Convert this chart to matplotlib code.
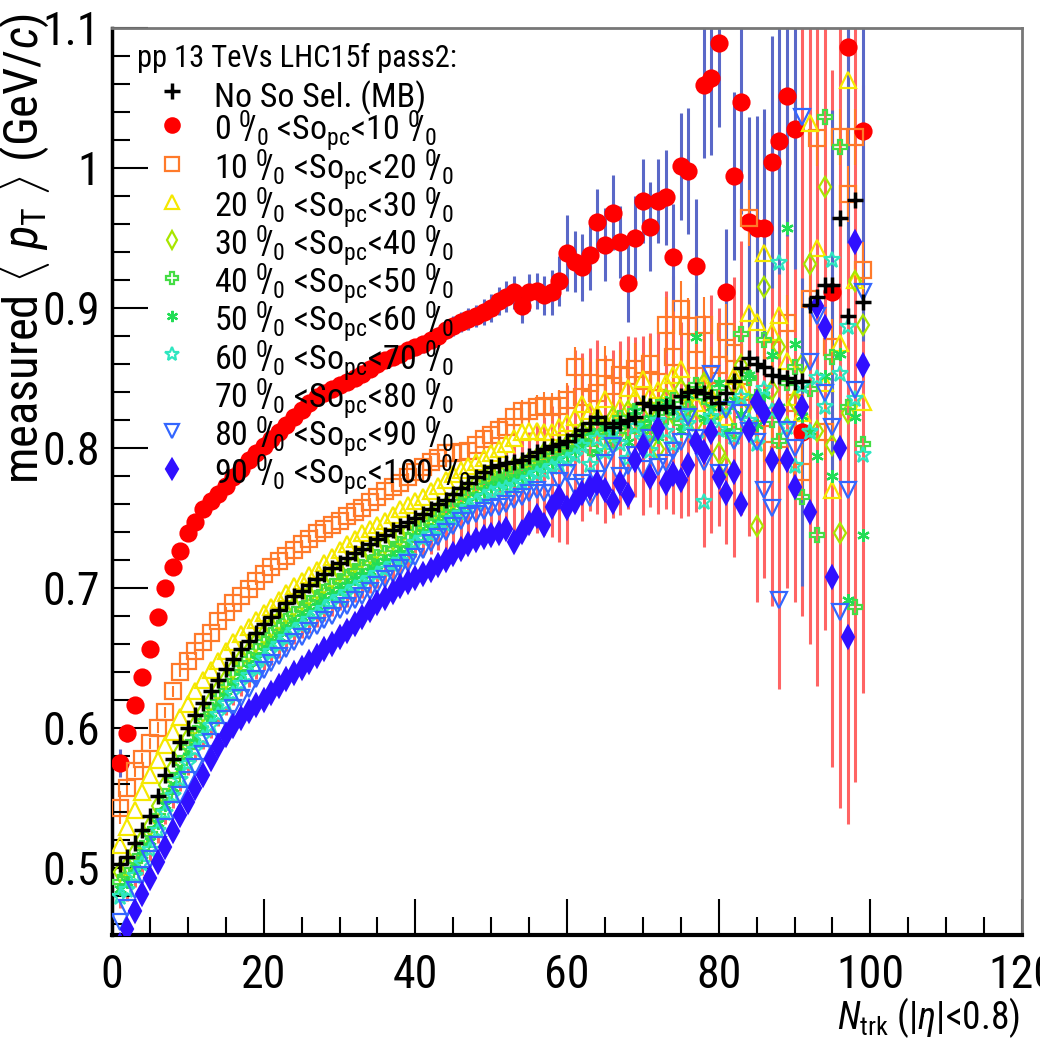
import numpy as np
import matplotlib
matplotlib.use("Agg")
import matplotlib.pyplot as plt
from matplotlib.lines import Line2D
from matplotlib.ticker import MultipleLocator, FormatStrFormatter
from matplotlib import font_manager

nan = np.nan

# N_trk bins 1..99
n_trk = np.arange(1, 100)

# <pT> for minimum bias (no spherocity selection)
mb = [.503, .508, .518, .527, .537, .551, .566, .578, .590, .600,
      .609, .618, .626, .634, .642, .649, .656, .662, .668, .674,
      .679, .684, .689, .694, .698, .702, .706, .710, .714, .718,
      .721, .725, .728, .731, .735, .738, .741, .744, .747, .750,
      .753, .756, .760, .763, .767, .771, .775, .779, .783, .786,
      .788, .789, .790, .791, .794, .797, .799, .801, .803, .805,
      .809, .813, .818, .822, .818, .815, .818, .820, .822, .832,
      .830, .828, .830, .829, .837, .840, .841, .839, .836, .832,
      .839, .848, .857, .864, .860, .858, .852, .851, .850, .847,
      .848, .902, .908, .916, .916, .964, .894, .977, .904]

so_0_10 = [.575, .596, .616, .636, .656, .679, .700, .715, .726, .739,
           .747, .756, .762, .767, .773, .779, .785, .791, .796, .801,
           .806, .811, .816, .822, .827, .832, .836, .839, .842, .845,
           .847, .850, .853, .856, .860, .863, .865, .867, .870, .872,
           .874, .877, .880, .884, .887, .890, .892, .894, .897, .900,
           .905, .908, .911, .901, .911, .912, .909, .911, .919, .939,
           .933, .929, .938, .961, .945, .968, .947, .918, .950, .976,
           .958, .976, .979, .936, 1.001, .998, .930, 1.059, 1.064, 1.089,
           .911, .994, 1.047, .961, .957, .957, 1.004, 1.019, 1.051, 1.028,
           .811, nan, nan, nan, .911, nan, 1.086, nan, 1.026]
err_0_10 = [.010, .006, .004, .003, .003, .003, .003, .003, .003, .003,
            .003, .003, .003, .003, .003, .003, .003, .003, .003, .003,
            .003, .003, .003, .003, .003, .003, .003, .003, .003, .003,
            .004, .004, .004, .004, .004, .005, .005, .005, .005, .005,
            .006, .006, .006, .006, .007, .007, .008, .008, .009, .010,
            .010, .011, .012, .012, .013, .013, .014, .016, .018, .027,
            .022, .024, .025, .024, .026, .027, .026, .028, .030, .030,
            .032, .030, .034, .038, .038, .045, .048, .052, .055, .060,
            .045, .060, .080, .075, .080, .085, .090, .095, .100, .100,
            .110, .120, .120, .130, .130, .140, .140, .150, .150]

so_10_20 = [.543, .557, .569, .578, .589, .600, .611, .626, .640, .648,
            .655, .661, .668, .676, .683, .689, .694, .699, .705, .710,
            .715, .719, .723, .727, .731, .735, .739, .742, .745, .748,
            .751, .754, .757, .761, .765, .769, .772, .775, .779, .783,
            .786, .790, .793, .796, .796, .797, .798, .802, .806, .809,
            .813, .815, .822, .826, .826, .829, .830, .829, .830, .834,
            .858, .836, .846, .839, .857, .844, .852, .851, .856, .848,
            .860, .847, .888, .865, .899, .887, .863, .888, .852, .859,
            .883, .868, .840, .964, .825, .810, .870, .795, .889, .832,
            .783, .906, 1.021, .811, .872, 1.022, .981, 1.022, .927]
err_10_20 = [.012, .006, .004, .004, .004, .004, .004, .004, .004, .004,
             .003, .003, .003, .003, .003, .003, .003, .003, .003, .003,
             .003, .003, .003, .003, .003, .003, .003, .003, .003, .003,
             .003, .003, .003, .003, .003, .003, .003, .003, .003, .003,
             .004, .004, .005, .005, .005, .005, .005, .006, .006, .006,
             .007, .007, .007, .008, .008, .009, .010, .010, .011, .012,
             .014, .015, .015, .016, .016, .017, .018, .018, .019, .020,
             .020, .020, .020, .020, .020, .020, .020, .020, .020, .020,
             .020, .020, .020, .020, .020, .020, .020, .020, .020, .020,
             .020, .020, .020, .020, .020, .020, .020, .020, .020]

so_20_30 = [.516, .529, .541, .554, .566, .577, .588, .597, .608, .617,
            .626, .634, .641, .648, .655, .661, .667, .672, .677, .682,
            .686, .691, .696, .701, .705, .709, .713, .718, .722, .727,
            .731, .735, .739, .742, .745, .748, .752, .756, .759, .762,
            .765, .769, .773, .777, .781, .784, .787, .790, .793, .796,
            .799, .803, .807, .811, .812, .812, .811, .811, .815, .818,
            .822, .831, .826, .824, .835, .820, .829, .843, .836, .849,
            .838, .841, .846, .852, .856, .840, .832, .845, .838, .828,
            .822, .851, .842, .896, .890, .939, .883, .895, .862, .836,
            .825, 1.032, .943, .846, .770, .875, 1.063, .920, .833]

so_30_40 = [.497, .501, .511, .520, .530, .544, .559, .571, .583, .593,
            .602, .611, .619, .627, .635, .642, .649, .655, .661, .667,
            .672, .677, .682, .687, .691, .695, .699, .703, .707, .711,
            .714, .718, .721, .724, .728, .731, .734, .737, .740, .745,
            .748, .751, .755, .758, .762, .766, .770, .774, .778, .781,
            .783, .784, .786, .787, .790, .793, .796, .798, .800, .802,
            .806, .812, .809, .818, .806, .822, .813, .826, .818, .812,
            .828, .799, .835, .824, .842, .829, .818, .846, .832, .796,
            .787, .845, .859, .833, .744, .915, .841, .872, .815, .833,
            .860, .931, .812, .986, .802, .739, .825, .919, .888]

so_40_50 = [.490, .495, .505, .514, .524, .537, .551, .563, .575, .586,
            .596, .605, .613, .621, .629, .636, .643, .649, .655, .661,
            .666, .671, .676, .681, .685, .689, .693, .697, .701, .705,
            .708, .712, .715, .718, .722, .725, .728, .731, .734, .740,
            .743, .746, .750, .753, .757, .761, .765, .769, .773, .776,
            .778, .779, .781, .783, .786, .789, .791, .794, .797, .799,
            .803, .808, .800, .815, .811, .805, .821, .812, .826, .817,
            .809, .829, .822, .834, .818, .828, .845, .836, .822, .843,
            .829, .812, .881, .850, .836, .877, .820, .805, .846, .858,
            .765, .842, .738, 1.036, .865, 1.015, .829, .686, .803]

so_50_60 = [.485, .490, .500, .509, .519, .532, .545, .557, .569, .580,
            .590, .599, .607, .615, .623, .630, .637, .643, .649, .655,
            .660, .665, .670, .675, .679, .683, .687, .691, .695, .699,
            .702, .706, .709, .712, .716, .719, .722, .725, .728, .736,
            .739, .742, .746, .749, .753, .757, .761, .765, .769, .772,
            .774, .775, .777, .779, .782, .785, .787, .790, .792, .795,
            .798, .804, .811, .796, .814, .809, .818, .804, .826, .815,
            .821, .808, .833, .826, .812, .838, .879, .821, .829, .846,
            .811, .834, .824, .852, .816, .838, .866, .829, .957, .874,
            .823, .812, .794, .851, .780, .867, .691, .822, .738]

so_60_70 = [.479, .484, .494, .503, .513, .526, .539, .551, .563, .574,
            .584, .593, .601, .609, .617, .624, .631, .637, .643, .649,
            .654, .659, .664, .669, .673, .677, .681, .685, .689, .693,
            .696, .700, .703, .706, .710, .713, .716, .719, .722, .732,
            .735, .738, .742, .745, .749, .753, .757, .761, .765, .768,
            .770, .771, .773, .775, .778, .781, .783, .786, .788, .791,
            .794, .801, .788, .806, .797, .811, .803, .792, .815, .806,
            .798, .819, .811, .802, .825, .817, .806, .761, .822, .813,
            .829, .808, .836, .819, .803, .842, .826, .932, .815, .787,
            .844, .811, .850, .829, .934, .853, .886, .835, .795]

so_70_80 = [.474, .479, .489, .498, .508, .521, .534, .546, .558, .569,
            .579, .588, .596, .604, .612, .619, .626, .632, .638, .644,
            .649, .654, .659, .664, .668, .672, .676, .680, .684, .688,
            .691, .695, .698, .701, .705, .708, .711, .714, .717, .729,
            .732, .735, .739, .742, .746, .750, .754, .758, .762, .765,
            .767, .768, .770, .772, .775, .778, .780, .783, .785, .788,
            .812, .808, .813, .815, .806, .810, .814, .818, .822, .816,
            .820, .818, .834, .838, .820, .826, .836, .812, .824, .822,
            .819, .822, .850, .881, .855, .870, .852, .845, .880, .870,
            .890, .880, .870, .890, .821, .825, .821, .832, .842]
err_70_80 = [.003, .003, .003, .003, .003, .003, .003, .003, .003, .003,
             .003, .003, .003, .003, .003, .003, .003, .003, .003, .003,
             .004, .004, .004, .004, .004, .004, .004, .004, .004, .004,
             .005, .005, .005, .005, .005, .007, .007, .007, .007, .007,
             .010, .011, .012, .014, .015, .017, .019, .021, .023, .025,
             .027, .029, .031, .034, .036, .039, .042, .047, .052, .057,
             .058, .060, .058, .062, .060, .060, .062, .062, .057, .064,
             .062, .065, .078, .085, .070, .075, .082, .083, .085, .078,
             .088, .100, .098, .144, .165, .163, .165, .217, .180, .180,
             .210, .220, .240, .220, .249, .282, .290, .271, .217]

so_80_90 = [.461, .471, .484, .495, .506, .516, .529, .541, .552, .563,
            .572, .581, .590, .598, .606, .614, .621, .628, .635, .641,
            .646, .651, .656, .661, .665, .669, .673, .677, .680, .684,
            .687, .691, .694, .698, .702, .706, .710, .714, .718, .722,
            .727, .732, .736, .740, .744, .748, .751, .753, .755, .757,
            .758, .760, .763, .765, .768, .770, .768, .768, .776, .782,
            .772, .775, .764, .778, .789, .801, .780, .787, .795, .785,
            .807, .786, .789, .798, .804, .822, .807, .790, .853, .782,
            .827, .805, .825, .812, .804, .770, .757, .691, .813, .800,
            1.036, .861, .894, .839, .815, .683, .770, .841, .911]

so_90_100 = [.445, .456, .469, .481, .493, .504, .515, .526, .538, .547,
             .557, .566, .578, .587, .595, .601, .607, .612, .616, .620,
             .625, .630, .635, .639, .643, .647, .651, .656, .660, .665,
             .669, .674, .679, .684, .689, .693, .697, .701, .704, .707,
             .710, .713, .716, .720, .724, .728, .731, .734, .736, .738,
             .739, .742, .733, .740, .746, .751, .745, .758, .765, .757,
             .761, .768, .771, .775, .770, .761, .775, .766, .791, .801,
             .779, .814, .775, .781, .777, .788, .804, .797, .811, .779,
             .768, .783, .760, .813, .833, .825, .791, .827, .791, .772,
             .829, .754, .901, .886, .708, .800, .665, .947, .859]

bin_edges = [0, 10, 20, 30, 40, 50, 60, 70, 80, 90, 100]
legend_title = "pp 13 TeVs LHC15f pass2:"
mb_label = "No So Sel. (MB)"


def pick_font():
    # ROOT uses a narrow Helvetica; look for any condensed sans installed
    entries = font_manager.fontManager.ttflist
    names = {f.name for f in entries}
    for nm in ["Liberation Sans Narrow", "Roboto Condensed", "Arial Narrow",
               "Nimbus Sans Narrow", "Open Sans Condensed", "Noto Sans Condensed",
               "DejaVu Sans Condensed"]:
        if nm in names:
            return nm, "normal"
    for f in entries:
        if f.name in ("DejaVu Sans", "Noto Sans", "Roboto", "Open Sans") and \
                str(f.stretch) in ("condensed", "semi-condensed"):
            return f.name, str(f.stretch)
    return "Liberation Sans", "normal"


fam, stretch = pick_font()
plt.rcParams["font.family"] = [fam, "DejaVu Sans"]
plt.rcParams["font.stretch"] = stretch
plt.rcParams["mathtext.fontset"] = "custom"
plt.rcParams["mathtext.rm"] = fam
plt.rcParams["mathtext.it"] = fam + ":italic"
plt.rcParams["mathtext.sf"] = fam

fig = plt.figure(figsize=(10.4, 10.45), dpi=100)
ax = fig.add_axes([0.1077, 0.1053, 0.875, 0.868])

# (values, marker, color, filled, size)
series = [
    (so_0_10, "o", "#ff0000", True, 11.5),
    (so_10_20, "s", "#ff7a2a", False, 11),
    (so_20_30, "^", "#f5e800", False, 11),
    (so_30_40, "d", "#a8e600", False, 10),
    (so_40_50, "P", "#44dd44", False, 10),
    (so_50_60, (6, 2, 0), "#22dd55", False, 9),
    (so_60_70, "*", "#2ee6c0", False, 12),
    (so_70_80, "none", "#ff5a5a", False, 0),
    (so_80_90, "v", "#3366ff", False, 11),
    (so_90_100, "d", "#3010ff", True, 11),
]

# error bars
ax.errorbar(n_trk, so_70_80, yerr=err_70_80, fmt="none", ecolor="#ff6464",
            elinewidth=2.2, capsize=0, zorder=1)
ax.errorbar(n_trk, so_0_10, yerr=err_0_10, fmt="none", ecolor="#5a68c8",
            elinewidth=2.2, capsize=0, zorder=1)
ax.errorbar(n_trk, so_10_20, yerr=err_10_20, fmt="none", ecolor="#ff7a2a",
            elinewidth=1.5, capsize=0, zorder=1)

handles = [Line2D([], [], ls="none", marker="+", color="black", ms=11, mew=2.5)]
labels = [mb_label]
for i, (vals, mk, col, filled, ms) in enumerate(series):
    lo, hi = bin_edges[i], bin_edges[i + 1]
    lab = (rf"{lo} $^{{0}}\!\!/_{{0}}$ <So$_{{\rm pc}}$<{hi} "
           rf"$^{{0}}\!\!/_{{0}}$")
    if mk != "none":
        ax.plot(n_trk, vals, ls="none", marker=mk, ms=ms, mew=1.6,
                color=col, mfc=col if filled else "none", mec=col, zorder=3)
        h = Line2D([], [], ls="none", marker=mk, ms=ms * 0.9, mew=1.6,
                   color=col, mfc=col if filled else "none", mec=col)
    else:
        h = Line2D([], [], ls="none", marker="none")
    handles.append(h)
    labels.append(lab)

ax.plot(n_trk, mb, ls="none", marker="+", color="black", ms=11, mew=2.5, zorder=4)

ax.text(0.028, 0.967, legend_title, transform=ax.transAxes, fontsize=22,
        ha="left", va="center")
leg = ax.legend(handles, labels, loc="upper left",
                bbox_to_anchor=(0.048, 0.947), frameon=False, fontsize=24.5,
                handlelength=0.97, handleheight=1.4, handletextpad=0.75,
                labelspacing=-0.18, borderpad=0, borderaxespad=0)

ax.set_xlim(0, 120)
ax.set_ylim(0.452, 1.1)
ax.xaxis.set_major_locator(MultipleLocator(20))
ax.xaxis.set_minor_locator(MultipleLocator(5))
ax.yaxis.set_major_locator(MultipleLocator(0.1))
ax.yaxis.set_minor_locator(MultipleLocator(0.02))
ax.yaxis.set_major_formatter(FormatStrFormatter("%g"))
ax.tick_params(which="both", direction="in", top=False, right=False,
               labelsize=33, width=1.5)
ax.tick_params(which="major", length=26, pad=9)
ax.tick_params(which="minor", length=13)
ax.tick_params(axis="x", pad=13)

for s in ["top", "right"]:
    ax.spines[s].set_color("#777777")
    ax.spines[s].set_linewidth(2)
ax.spines["left"].set_linewidth(2.5)
ax.spines["bottom"].set_linewidth(3)

ax.set_ylabel(r"measured $\langle$ $p_{\rm T}$ $\rangle$ (GeV/$c$)",
              fontsize=35, loc="top")
ax.yaxis.set_label_coords(-0.066, 1.017)
ax.set_xlabel(r"$N_{\rm trk}$ (|$\eta$|<0.8)", fontsize=27, loc="right")
ax.xaxis.set_label_coords(0.998, -0.066)

fig.savefig("out.png", dpi=100)
